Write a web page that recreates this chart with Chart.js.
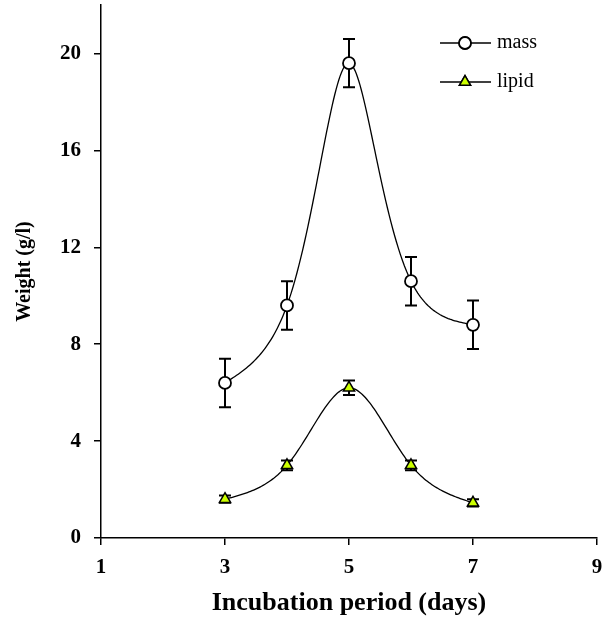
<!DOCTYPE html>
<html>
<head>
<meta charset="utf-8">
<script src="https://cdn.jsdelivr.net/npm/chart.js@4"></script>
<style>
  html, body { margin: 0; padding: 0; background: #fff; }
  #wrap { width: 603px; height: 621px; }
</style>
</head>
<body>
<div id="wrap"><canvas id="chart" width="603" height="621"></canvas></div>
<script>
/* -------------------------------
   Data
--------------------------------*/
const days      = [3, 4, 5, 6, 7];
const massMean  = [6.4, 9.6, 19.6, 10.6, 8.8];
const massErr   = [1.0, 1.0, 1.0, 1.0, 1.0];
const lipidMean = [1.6, 3.0, 6.2, 3.0, 1.45];
const lipidErr  = [0.15, 0.2, 0.3, 0.2, 0.15];
const xTicks    = [1, 3, 5, 7, 9];
const yTicks    = [0, 4, 8, 12, 16, 20];

const FONT = "'Liberation Serif', 'Times New Roman', serif";

function toPoints(ys) {
    return days.map((d, i) => ({ x: d, y: ys[i] }));
}

/* natural cubic spline: second derivatives for knots t / values v */
function splineM(t, v) {
    const n = t.length, M = new Array(n).fill(0);
    if (n < 3) return M;
    const a = [], b = [], c = [], r = [];
    for (let i = 1; i < n - 1; i++) {
        const h0 = t[i] - t[i - 1], h1 = t[i + 1] - t[i];
        a.push(h0); b.push(2 * (h0 + h1)); c.push(h1);
        r.push(6 * ((v[i + 1] - v[i]) / h1 - (v[i] - v[i - 1]) / h0));
    }
    // Thomas algorithm
    const m = b.length;
    for (let i = 1; i < m; i++) {
        const w = a[i] / b[i - 1];
        b[i] -= w * c[i - 1];
        r[i] -= w * r[i - 1];
    }
    const x = new Array(m);
    x[m - 1] = r[m - 1] / b[m - 1];
    for (let i = m - 2; i >= 0; i--) x[i] = (r[i] - c[i] * x[i + 1]) / b[i];
    for (let i = 0; i < m; i++) M[i + 1] = x[i];
    return M;
}

function splineAt(t, v, M, i, s) {
    const h = t[i + 1] - t[i];
    const A = (t[i + 1] - s) / h, B = (s - t[i]) / h;
    return A * v[i] + B * v[i + 1] + ((A * A * A - A) * M[i] + (B * B * B - B) * M[i + 1]) * h * h / 6;
}

/* -------------------------------
   Smooth curve + error bars, under the markers
--------------------------------*/
const curvesAndErrors = {
    id: "curvesAndErrors",
    beforeDatasetsDraw(chart) {
        const ctx = chart.ctx;
        const xs = chart.scales.x, ys = chart.scales.y;
        ctx.save();
        chart.data.datasets.forEach(ds => {
            // error bars
            ctx.strokeStyle = "#000";
            ctx.lineWidth = 2;
            ds.data.forEach((p, i) => {
                const e = ds.errors[i];
                const px = xs.getPixelForValue(p.x);
                const top = ys.getPixelForValue(p.y + e);
                const bot = ys.getPixelForValue(p.y - e);
                ctx.beginPath();
                ctx.moveTo(px, top); ctx.lineTo(px, bot);
                ctx.moveTo(px - 6, top); ctx.lineTo(px + 6, top);
                ctx.moveTo(px - 6, bot); ctx.lineTo(px + 6, bot);
                ctx.stroke();
            });

            // centripetal parametric spline through the points (pixel space)
            const px = ds.data.map(p => xs.getPixelForValue(p.x));
            const py = ds.data.map(p => ys.getPixelForValue(p.y));
            const t = [0];
            for (let i = 1; i < px.length; i++) {
                t.push(t[i - 1] + Math.sqrt(Math.hypot(px[i] - px[i - 1], py[i] - py[i - 1])));
            }
            const Mx = splineM(t, px), My = splineM(t, py);
            ctx.lineWidth = 1.3;
            ctx.beginPath();
            ctx.moveTo(px[0], py[0]);
            for (let i = 0; i < px.length - 1; i++) {
                const steps = 40;
                for (let k = 1; k <= steps; k++) {
                    const s = t[i] + (t[i + 1] - t[i]) * k / steps;
                    ctx.lineTo(splineAt(t, px, Mx, i, s), splineAt(t, py, My, i, s));
                }
            }
            ctx.stroke();
        });
        ctx.restore();
    }
};

/* -------------------------------
   Legend: line + marker + label
--------------------------------*/
const lineLegend = {
    id: "lineLegend",
    afterDraw(chart) {
        const ctx = chart.ctx;
        const rowY = [43, 82];
        ctx.save();
        chart.data.datasets.forEach((ds, i) => {
            const y = rowY[i];
            ctx.strokeStyle = "#000";
            ctx.lineWidth = 1.3;
            ctx.beginPath();
            ctx.moveTo(440, y); ctx.lineTo(491, y);
            ctx.stroke();
            Chart.helpers.drawPoint(ctx, {
                pointStyle: ds.pointStyle,
                radius: ds.pointRadius,
                borderWidth: ds.pointBorderWidth
            }, 465, y);
            ctx.fillStyle = ds.pointBackgroundColor;
            ctx.strokeStyle = "#000";
            ctx.lineWidth = ds.pointBorderWidth;
            ctx.fill();
            ctx.stroke();
            ctx.fillStyle = "#000";
            ctx.font = "20px " + FONT;
            ctx.textBaseline = "middle";
            ctx.fillText(ds.label, 497, y);
        });
        ctx.restore();
    }
};

function noPad(s) {
    s.paddingTop = s.paddingBottom = s.paddingLeft = s.paddingRight = 0;
}

new Chart(document.getElementById("chart"), {
    type: "line",
    data: {
        datasets: [
            {
                label: "mass",
                data: toPoints(massMean),
                errors: massErr,
                showLine: false,
                pointStyle: "circle",
                pointRadius: 6,
                pointBorderWidth: 1.8,
                pointBackgroundColor: "#fff",
                pointBorderColor: "#000"
            },
            {
                label: "lipid",
                data: toPoints(lipidMean),
                errors: lipidErr,
                showLine: false,
                pointStyle: "triangle",
                pointRadius: 6.5,
                pointBorderWidth: 1.5,
                pointBackgroundColor: "#ccff00",
                pointBorderColor: "#000"
            }
        ]
    },
    options: {
        responsive: false,
        animation: false,
        devicePixelRatio: 1,
        layout: { autoPadding: false, padding: { top: 5, right: 6, left: 0, bottom: 0 } },
        plugins: {
            legend: { display: false },
            tooltip: { enabled: false }
        },
        scales: {
            x: {
                type: "linear",
                min: 1, max: 9,
                afterBuildTicks: s => { s.ticks = xTicks.map(v => ({ value: v })); },
                afterFit: s => { s.height = 83; noPad(s); },
                grid: { drawOnChartArea: false, drawTicks: true, tickLength: 7, color: "#000", lineWidth: 1.5 },
                border: { display: true, color: "#000", width: 1.5 },
                ticks: { color: "#000", padding: 10, maxRotation: 0, font: { family: FONT, size: 21, weight: "bold" } },
                title: {
                    display: true,
                    text: "Incubation period (days)",
                    color: "#000",
                    padding: { top: 0, bottom: 2 },
                    font: { family: FONT, size: 26, weight: "bold" }
                }
            },
            y: {
                type: "linear",
                min: 0, max: 22,
                afterBuildTicks: s => { s.ticks = yTicks.map(v => ({ value: v })); },
                afterFit: s => { s.width = 101; noPad(s); },
                grid: { drawOnChartArea: false, drawTicks: true, tickLength: 7, color: "#000", lineWidth: 1.5 },
                border: { display: true, color: "#000", width: 1.5 },
                ticks: { color: "#000", padding: 13, font: { family: FONT, size: 21, weight: "bold" } },
                title: {
                    display: true,
                    text: "Weight (g/l)",
                    color: "#000",
                    padding: { top: 13, bottom: 0 },
                    font: { family: FONT, size: 20, weight: "bold" }
                }
            }
        }
    },
    plugins: [curvesAndErrors, lineLegend]
});
</script>
</body>
</html>
